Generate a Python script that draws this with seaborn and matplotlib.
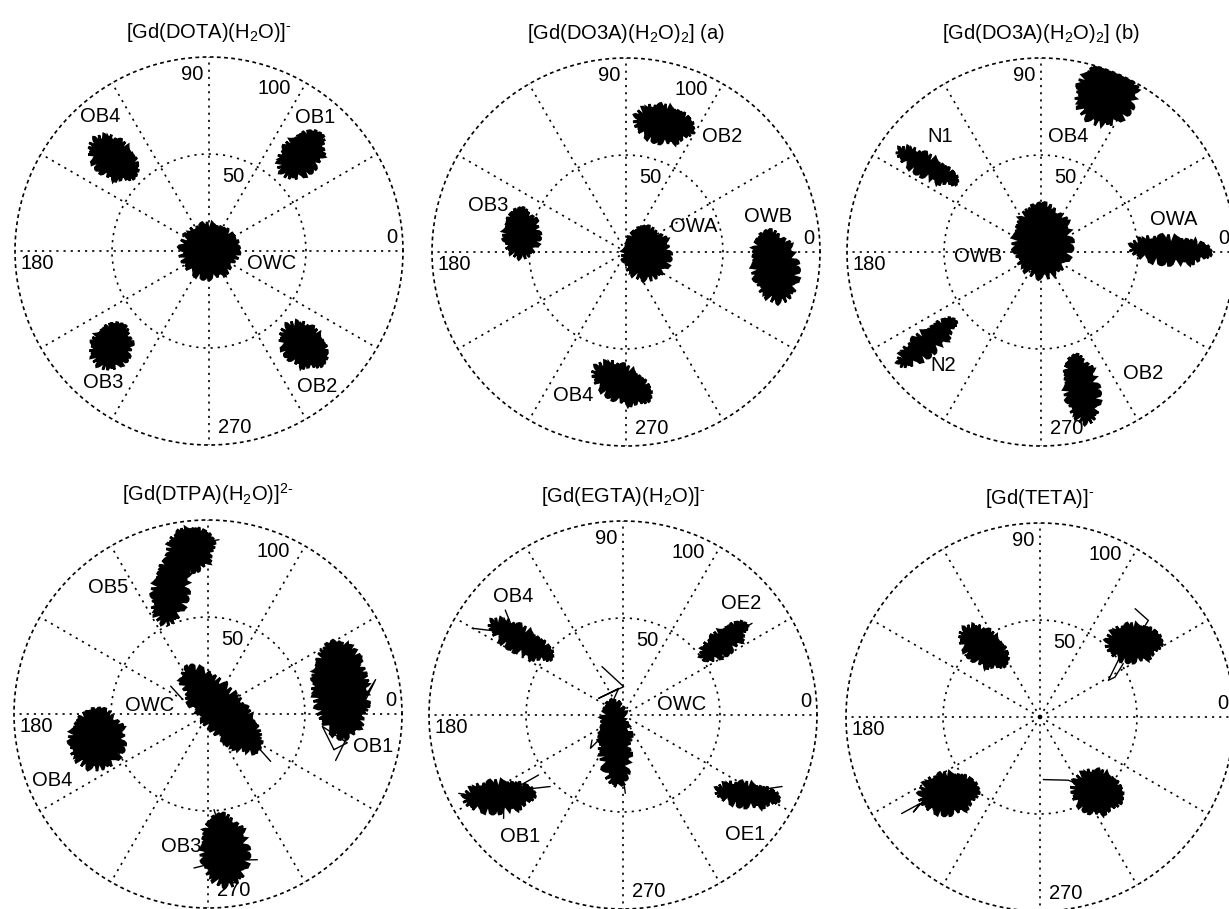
import numpy as np
import matplotlib
matplotlib.use("Agg")
import matplotlib.pyplot as plt
import seaborn as sns

sns.set_style("white")
plt.rcParams["font.family"] = ["Liberation Sans", "DejaVu Sans"]
plt.rcParams["text.color"] = "black"
plt.rcParams["mathtext.fontset"] = "custom"
plt.rcParams["mathtext.rm"] = "Liberation Sans"
plt.rcParams["mathtext.it"] = "Liberation Sans:italic"
plt.rcParams["mathtext.bf"] = "Liberation Sans:bold"

titles = [
    r"[Gd(DOTA)(H$_2$O)]$^{\text{-}}$",
    r"[Gd(DO3A)(H$_2$O)$_2$] (a)",
    r"[Gd(DO3A)(H$_2$O)$_2$] (b)",
    r"[Gd(DTPA)(H$_2$O)]$^{2\text{-}}$",
    r"[Gd(EGTA)(H$_2$O)]$^{\text{-}}$",
    r"[Gd(TETA)]$^{\text{-}}$",
]

# each cluster: mean angle (deg), mean distance, half spread along / across its long axis, long axis direction (deg)
dota_site = ["OWC", "OB4", "OB1", "OB3", "OB2"]
dota_theta = [0, 136, 46, 224.5, 315]
dota_r = [0, 68.7, 68.8, 70.3, 68.7]
dota_len = [14, 13, 13, 11, 12.5]
dota_wid = [13, 8.5, 8.5, 9, 9]
dota_tilt = [0, -41, 45, 60, -45]

do3a_a_site = ["OWA", "OB2", "OB3", "OWB", "OB4"]
do3a_a_theta = [355, 73.7, 170, 354.3, 268]
do3a_a_r = [10.7, 68.6, 54.6, 77.2, 67.9]
do3a_a_len = [12.5, 14, 11.5, 17.5, 15]
do3a_a_wid = [11, 8.5, 8, 10.5, 8]
do3a_a_tilt = [90, -12, 90, 100, -29]

do3a_b_site = ["OWB", "OB4", "N1", "OWA", "N2", "OB2"]
do3a_b_theta = [81, 67.5, 143.1, 0.8, 218.5, 286.5]
do3a_b_r = [5.6, 88.7, 73.6, 66.5, 75.3, 74]
do3a_b_len = [18, 16, 16, 19.5, 17, 16.5]
do3a_b_wid = [14, 14, 4.5, 6, 5, 7.5]
do3a_b_tilt = [90, 60, -29, -4, 38, 100]

# OB5 is bent, so it is given as two pieces
dtpa_site = ["OWC", "OB5", "", "OB1", "OB4", "OB3"]
dtpa_theta = [19, 96, 106.7, 10.4, 193, 277]
dtpa_r = [6.9, 85.2, 66.9, 69.5, 58.6, 71]
dtpa_len = [27, 11, 17, 24, 14.5, 17.5]
dtpa_wid = [10, 10, 8, 13, 13, 11]
dtpa_tilt = [-48, 20, 80, 95, 80, 95]

egta_site = ["OWC", "OB4", "OE2", "OB1", "OE1"]
egta_theta = [254.7, 143.8, 36, 213.3, 327.2]
egta_r = [15.1, 65.5, 64.2, 76.7, 76]
egta_len = [21, 17, 13, 17, 15]
egta_wid = [7, 5.5, 5, 7, 5]
egta_tilt = [92, -30, 37, 3, -8]

teta_site = ["", "", "", "", ""]
teta_theta = [0, 129, 38.4, 219.9, 307]
teta_r = [0, 46.4, 61.4, 61.6, 48.5]
teta_len = [0.6, 13, 13, 14, 12]
teta_wid = [0.6, 7.5, 8.5, 9.5, 10]
teta_tilt = [0, -39, 0, 5, -20]

# single excursions that stick out of the clusters (deg, distance)
dota_trace_theta = []
dota_trace_r = []
do3a_a_trace_theta = []
do3a_a_trace_r = []
do3a_b_trace_theta = []
do3a_b_trace_r = []
dtpa_trace_theta = [[344.2, 348.3, 353.8, 344.2], [340, 11.6, 5], [322.9, 330], [143.3, 150],
                    [264.8, 272, 268], [288.7, 282, 284], [273.6, 276], [86.4, 95]]
dtpa_trace_r = [[67.5, 73.3, 59.3, 67.5], [70, 88.2, 80], [40.5, 25], [24, 15],
                [79.7, 77, 70], [79.3, 77, 72], [49.4, 60], [90, 88]]
egta_trace_theta = [[113.5, 88.6, 145.5, 99.2, 146.5], [218.9, 225.7, 226], [271.7, 268],
                    [224.5, 214, 215.4], [220.9, 216], [205.5, 210], [150.1, 143, 138.3],
                    [35.4, 36], [33, 36], [335.8, 330]]
egta_trace_r = [[27.2, 14.6, 15.2, 13.9, 7.8], [20.5, 24, 13.1], [40.4, 25],
                [52.6, 70, 53.4], [81.4, 76], [93.8, 85], [89.7, 70, 81.3],
                [81.6, 70], [50.5, 60], [89.9, 78]]
teta_trace_theta = [[273, 294.1, 298.8], [36.9, 32.5, 28.2, 28, 32.7], [48.7, 41.7, 40],
                    [214.9, 215.8, 216.9, 215.2]]
teta_trace_r = [[32.3, 35.7, 39.2], [51.5, 44.8, 40, 43.8, 51], [74.3, 74.8, 68],
                [87, 76.3, 81.6, 71.5]]

# where the site names are written (deg, distance)
dota_lab_theta = [349.2, 129.1, 51.6, 231.2, 308.5]
dota_lab_r = [33.1, 89.1, 88.1, 87.3, 89.5]
do3a_a_lab_theta = [20.6, 50.3, 161.2, 13.9, 249.8]
do3a_a_lab_r = [37.1, 77.2, 75, 75.6, 78.6]
do3a_b_lab_theta = [184.3, 76.7, 131.2, 13.6, 229.2, 310.1]
do3a_b_lab_r = [32.4, 61.1, 79, 70.2, 77, 81.8]
dtpa_lab_theta = [171.5, 128.3, 0, 349, 203.2, 258.7]
dtpa_lab_r = [30.2, 82.9, 0, 86.8, 87.6, 69.4]
egta_lab_theta = [9.7, 132.8, 43.3, 229.8, 315.5]
egta_lab_r = [30.7, 83.2, 84, 82.2, 88.2]
teta_lab_theta = [0, 0, 0, 0, 0]
teta_lab_r = [0, 0, 0, 0, 0]

panels = [
    (dota_site, dota_theta, dota_r, dota_len, dota_wid, dota_tilt, dota_lab_theta, dota_lab_r,
     dota_trace_theta, dota_trace_r),
    (do3a_a_site, do3a_a_theta, do3a_a_r, do3a_a_len, do3a_a_wid, do3a_a_tilt, do3a_a_lab_theta,
     do3a_a_lab_r, do3a_a_trace_theta, do3a_a_trace_r),
    (do3a_b_site, do3a_b_theta, do3a_b_r, do3a_b_len, do3a_b_wid, do3a_b_tilt, do3a_b_lab_theta,
     do3a_b_lab_r, do3a_b_trace_theta, do3a_b_trace_r),
    (dtpa_site, dtpa_theta, dtpa_r, dtpa_len, dtpa_wid, dtpa_tilt, dtpa_lab_theta, dtpa_lab_r,
     dtpa_trace_theta, dtpa_trace_r),
    (egta_site, egta_theta, egta_r, egta_len, egta_wid, egta_tilt, egta_lab_theta, egta_lab_r,
     egta_trace_theta, egta_trace_r),
    (teta_site, teta_theta, teta_r, teta_len, teta_wid, teta_tilt, teta_lab_theta, teta_lab_r,
     teta_trace_theta, teta_trace_r),
]

# circle centres in pixels (from top-left), radius 194 px
centres = [(209, 251), (626, 252), (1041, 252), (208, 714), (623, 715), (1040, 717)]
W, H, R = 1229, 909, 194

fig = plt.figure(figsize=(W / 100, H / 100), dpi=100)
dots = (0, (1.3, 3.0))
fs = 14.5


def blob(ax, th, r, a, b, tilt):
    # outline of the cluster spread, built in x/y then given to the polar axes
    t = np.linspace(0, 2 * np.pi, 120)
    cx, cy = r * np.cos(np.radians(th)), r * np.sin(np.radians(th))
    ph = np.radians(tilt)
    x = cx + a * np.cos(t) * np.cos(ph) - b * np.sin(t) * np.sin(ph)
    y = cy + a * np.cos(t) * np.sin(ph) + b * np.sin(t) * np.cos(ph)
    ang = np.unwrap(np.arctan2(y, x))
    small = a < 2
    poly = ax.fill(ang, np.hypot(x, y), color="k", lw=0.8 if small else 1.8, zorder=4)[0]
    if not small:
        poly.set_sketch_params(scale=4, length=2.5, randomness=5)


for i, (pan, (cx, cy)) in enumerate(zip(panels, centres)):
    site, th, r, ln, wd, tilt, lth, lr, tth, trr = pan
    ax = fig.add_axes([(cx - R) / W, (H - cy - R) / H, 2 * R / W, 2 * R / H], projection="polar")
    ax.set_ylim(0, 100)
    ax.set_thetagrids(range(0, 360, 30), labels=[])
    ax.set_rgrids([50], labels=[])
    ax.grid(True, color="k", lw=1.2, linestyle=dots)
    ax.spines["polar"].set_linestyle(dots)
    ax.spines["polar"].set_linewidth(1.2)
    ax.spines["polar"].set_color("k")
    ax.set_facecolor("white")

    for k in range(len(th)):
        blob(ax, th[k], r[k], ln[k], wd[k], tilt[k])
        if site[k]:
            ax.text(np.radians(lth[k]), lr[k], site[k], ha="center", va="center", fontsize=fs, zorder=3)

    for a_list, r_list in zip(tth, trr):
        sns.lineplot(x=np.radians(a_list), y=r_list, sort=False, estimator=None, ax=ax,
                     color="k", lw=1.0, zorder=4)
    ax.set_xlabel("")
    ax.set_ylabel("")

    tr = ax.transAxes
    ax.text(0.485, 0.954, "90", transform=tr, ha="right", va="center", fontsize=fs, zorder=3)
    ax.text(0.985, 0.536, "0", transform=tr, ha="right", va="center", fontsize=fs, zorder=3)
    ax.text(0.013, 0.469, "180", transform=tr, ha="left", va="center", fontsize=fs, zorder=3)
    ax.text(0.523, 0.044, "270", transform=tr, ha="left", va="center", fontsize=fs, zorder=3)
    ax.text(0.624, 0.920, "100", transform=tr, ha="left", va="center", fontsize=fs, zorder=3)
    ax.text(0.534, 0.691, "50", transform=tr, ha="left", va="center", fontsize=fs, zorder=3)
    ax.text(0.5, 1.05, titles[i], transform=tr, ha="center", va="baseline", fontsize=fs)

fig.savefig("out.png", dpi=100, facecolor="white")
